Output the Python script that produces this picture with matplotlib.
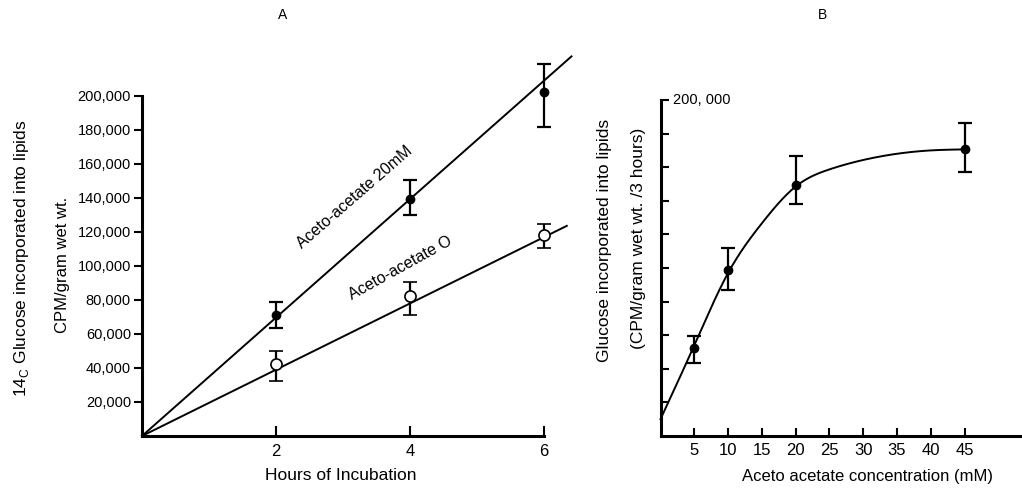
import matplotlib
matplotlib.use("Agg")
import matplotlib.pyplot as plt
import numpy as np

plt.rcParams['font.family'] = ['Liberation Sans', 'DejaVu Sans']
plt.rcParams['mathtext.fontset'] = 'custom'
plt.rcParams['mathtext.rm'] = 'Liberation Sans'

# panel A: hours of incubation
hours = [2, 4, 6]
aa20 = [71200, 139400, 202000]
aa20_lo = [63700, 129600, 181600]
aa20_hi = [79000, 150600, 218800]
aa0 = [42200, 82400, 118200]
aa0_lo = [32500, 71200, 110400]
aa0_hi = [50000, 90400, 124700]
# fitted lines (start, end)
fit20_x = [0, 6.41]
fit20_y = [0, 223100]
fit0_x = [0, 6.34]
fit0_y = [0, 123500]

# panel B: aceto acetate concentration
conc = [5, 10, 20, 45]
gluc = [52200, 98800, 149400, 170600]
gluc_lo = [43600, 86900, 137900, 157100]
gluc_hi = [59500, 111700, 166800, 186500]
# hand-drawn curve, read at a few points
curve_x = [0, 5, 10, 15, 20, 25, 30, 35, 40, 45]
curve_y = [10000, 54000, 97000, 126600, 148500, 158700, 164300, 168000, 170000, 170600]


def spline(xk, yk, xs):
    # natural cubic spline through the read points
    xk = np.asarray(xk, float)
    yk = np.asarray(yk, float)
    n = len(xk)
    h = np.diff(xk)
    A = np.zeros((n, n))
    r = np.zeros(n)
    A[0, 0] = A[-1, -1] = 1
    for i in range(1, n - 1):
        A[i, i - 1] = h[i - 1]
        A[i, i] = 2 * (h[i - 1] + h[i])
        A[i, i + 1] = h[i]
        r[i] = 6 * ((yk[i + 1] - yk[i]) / h[i] - (yk[i] - yk[i - 1]) / h[i - 1])
    M = np.linalg.solve(A, r)
    idx = np.clip(np.searchsorted(xk, xs) - 1, 0, n - 2)
    a = xk[idx + 1] - xs
    b = xs - xk[idx]
    hi = h[idx]
    return (M[idx] * a**3 / (6 * hi) + M[idx + 1] * b**3 / (6 * hi)
            + (yk[idx] / hi - M[idx] * hi / 6) * a + (yk[idx + 1] / hi - M[idx + 1] * hi / 6) * b)


fig = plt.figure(figsize=(10.22, 4.92), dpi=100)

# ---- panel A
ax = fig.add_axes([142 / 1022, 1 - 436 / 492, 402 / 1022, 340.3 / 492])
ax.plot(fit20_x, fit20_y, 'k-', lw=1.4, clip_on=False)
ax.plot(fit0_x, fit0_y, 'k-', lw=1.4, clip_on=False)
err20 = [np.array(aa20) - np.array(aa20_lo), np.array(aa20_hi) - np.array(aa20)]
err0 = [np.array(aa0) - np.array(aa0_lo), np.array(aa0_hi) - np.array(aa0)]
ax.errorbar(hours, aa20, yerr=err20, fmt='o', color='k', ms=6, capsize=5,
            elinewidth=1.6, capthick=1.6, clip_on=False, zorder=3)
ax.errorbar(hours, aa0, yerr=err0, fmt='o', color='k', mfc='white', mec='k', mew=1.2,
            ms=8, capsize=5, elinewidth=1.6, capthick=1.6, clip_on=False, zorder=3)
ax.set_xlim(0, 6)
ax.set_ylim(0, 200000)
ax.set_xticks(hours)
ax.set_yticks(range(20000, 200001, 20000))
ax.set_yticklabels([f"{v:,}" for v in range(20000, 200001, 20000)])
ax.tick_params(axis='x', direction='in', length=7, width=1.5, labelsize=12, pad=6)
ax.tick_params(axis='y', direction='out', length=6, width=1.5, labelsize=10.5, pad=2)
for s in ['top', 'right']:
    ax.spines[s].set_visible(False)
for s in ['left', 'bottom']:
    ax.spines[s].set_linewidth(2.2)
ax.text(3.18, 140600, "Aceto-acetate 20mM", rotation=41, rotation_mode='anchor',
        ha='center', va='center', fontsize=11.5)
ax.text(3.85, 98800, "Aceto-acetate O", rotation=29, rotation_mode='anchor',
        ha='center', va='center', fontsize=11.5)
fig.text(341 / 1022, 1 - 476 / 492, "Hours of Incubation", ha='center', va='center', fontsize=12.5)
fig.text(22 / 1022, 1 - 258 / 492, r"14$_{\mathrm{C}}$ Glucose incorporated into lipids",
         rotation=90, ha='center', va='center', fontsize=12.5)
fig.text(62 / 1022, 1 - 265 / 492, "CPM/gram wet wt.", rotation=90,
         ha='center', va='center', fontsize=12)
fig.text(283 / 1022, 1 - 15 / 492, "A", ha='center', va='center', fontsize=10)

# ---- panel B
bx = fig.add_axes([660.5 / 1022, 1 - 436 / 492, 361.5 / 1022, 336 / 492])
xs = np.linspace(curve_x[0], curve_x[-1], 300)
bx.plot(xs, spline(curve_x, curve_y, xs), 'k-', lw=1.4, clip_on=False)
errg = [np.array(gluc) - np.array(gluc_lo), np.array(gluc_hi) - np.array(gluc)]
bx.errorbar(conc, gluc, yerr=errg, fmt='o', color='k', ms=6, capsize=5,
            elinewidth=1.6, capthick=1.6, clip_on=False, zorder=3)
bx.set_xlim(0, 53.5)
bx.set_ylim(0, 200000)
bx.set_xticks(range(5, 46, 5))
bx.set_yticks(range(20000, 200001, 20000))
bx.set_yticklabels([])
bx.tick_params(axis='x', direction='in', length=6, width=1.5, labelsize=12, pad=5)
bx.tick_params(axis='y', direction='in', length=6, width=1.5)
for s in ['top', 'right']:
    bx.spines[s].set_visible(False)
for s in ['left', 'bottom']:
    bx.spines[s].set_linewidth(2.2)
bx.text(1.9, 200000, "200, 000", ha='left', va='center', fontsize=10.5)
fig.text(867 / 1022, 1 - 476 / 492, "Aceto acetate concentration (mM)",
         ha='center', va='center', fontsize=12)
fig.text(604 / 1022, 1 - 240 / 492, "Glucose incorporated into lipids", rotation=90,
         ha='center', va='center', fontsize=12.5)
fig.text(638 / 1022, 1 - 238 / 492, "(CPM/gram wet wt. /3 hours)", rotation=90,
         ha='center', va='center', fontsize=12.5)
fig.text(822 / 1022, 1 - 15 / 492, "B", ha='center', va='center', fontsize=10)

fig.savefig("out.png", dpi=100)
